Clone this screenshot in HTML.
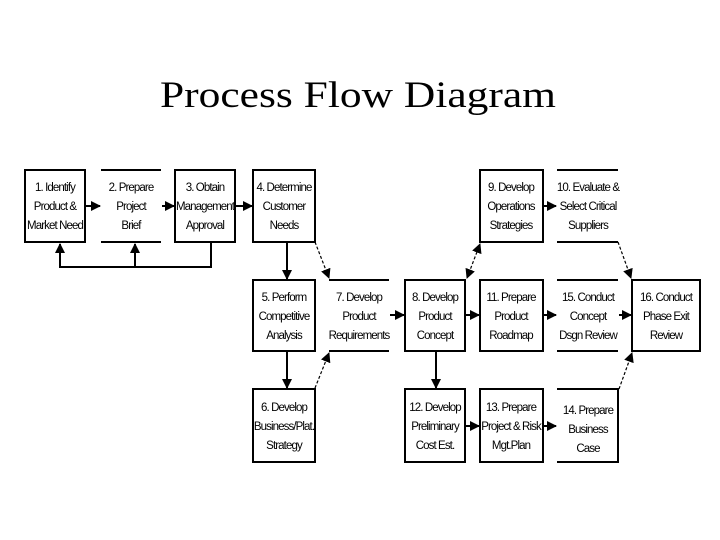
<!DOCTYPE html>
<html><head><meta charset="utf-8"><style>
html,body{margin:0;padding:0;background:#fff;}
svg{display:block}
.t{font-family:"Liberation Sans",sans-serif;font-size:11.5px;text-anchor:middle;fill:#000;letter-spacing:-0.9px}
</style></head><body>
<svg width="720" height="540" viewBox="0 0 720 540" xmlns="http://www.w3.org/2000/svg">
<defs>
<marker id="a" markerWidth="10" markerHeight="10" refX="9" refY="5" orient="auto" markerUnits="userSpaceOnUse"><path d="M0,0 L10,5 L0,10 z" fill="#000"/></marker>
<marker id="b" markerWidth="10" markerHeight="10" refX="1" refY="5" orient="auto" markerUnits="userSpaceOnUse"><path d="M10,0 L0,5 L10,10 z" fill="#000"/></marker>
</defs>
<text x="358" y="107" font-family="Liberation Serif,serif" font-size="37" text-anchor="middle" textLength="396" lengthAdjust="spacingAndGlyphs">Process Flow Diagram</text>
<g fill="none" stroke="#000" stroke-width="2">
<rect x="25" y="170" width="60" height="72"/>
<rect x="175" y="170" width="60" height="72"/>
<rect x="253" y="170" width="62" height="72"/>
<rect x="480" y="170" width="63" height="72"/>
<rect x="253" y="280" width="62" height="71"/>
<rect x="405" y="280" width="60" height="71"/>
<rect x="480" y="280" width="63" height="71"/>
<rect x="632" y="280" width="68" height="71"/>
<rect x="253" y="389" width="62" height="73"/>
<rect x="405" y="389" width="60" height="73"/>
<rect x="480" y="389" width="63" height="73"/>
<path d="M101,170H161M101,242H161"/>
<path d="M329,280H389M329,351H389"/>
<path d="M557,170H618M557,242H618"/>
<path d="M557,280H618M557,351H618"/>
<path d="M557,389H618V462H557"/>
<path d="M211,242V267H60V254M135,267V254"/>
</g>
<g stroke="#000" stroke-width="2" fill="none">
<path d="M86,206H100" marker-end="url(#a)"/>
<path d="M162,206H174" marker-end="url(#a)"/>
<path d="M236,206H252" marker-end="url(#a)"/>
<path d="M60,262V244" marker-end="url(#a)"/>
<path d="M135,262V244" marker-end="url(#a)"/>
<path d="M287,243V279" marker-end="url(#a)"/>
<path d="M287,352V388" marker-end="url(#a)"/>
<path d="M390,315H404" marker-end="url(#a)"/>
<path d="M466,315H479" marker-end="url(#a)"/>
<path d="M544,315H556" marker-end="url(#a)"/>
<path d="M619,315H631" marker-end="url(#a)"/>
<path d="M436,352V388" marker-end="url(#a)"/>
<path d="M466,426H479" marker-end="url(#a)"/>
<path d="M544,426H556" marker-end="url(#a)"/>
<path d="M544,206H556" marker-end="url(#a)"/>
</g>
<g stroke="#000" stroke-width="1.2" fill="none" stroke-dasharray="3,2">
<path d="M315,242L329,278" marker-end="url(#a)"/>
<path d="M315,388L329,353" marker-end="url(#a)"/>
<path d="M467,278L480,244" marker-end="url(#a)" marker-start="url(#b)"/>
<path d="M618,242L631,278" marker-end="url(#a)"/>
<path d="M619,389L632,353" marker-end="url(#a)"/>
</g>
<g class="t">
<text x="55" y="191">1. Identify</text><text x="55" y="210">Product &amp;</text><text x="55" y="229">Market Need</text>
<text x="131" y="191">2. Prepare</text><text x="131" y="210">Project</text><text x="131" y="229">Brief</text>
<text x="205" y="191">3. Obtain</text><text x="205" y="210">Management</text><text x="205" y="229">Approval</text>
<text x="284" y="191">4. Determine</text><text x="284" y="210">Customer</text><text x="284" y="229">Needs</text>
<text x="511" y="191">9. Develop</text><text x="511" y="210">Operations</text><text x="511" y="229">Strategies</text>
<text x="588" y="191">10. Evaluate &amp;</text><text x="588" y="210">Select Critical</text><text x="588" y="229">Suppliers</text>
<text x="284" y="301">5. Perform</text><text x="284" y="320">Competitive</text><text x="284" y="339">Analysis</text>
<text x="359" y="301">7. Develop</text><text x="359" y="320">Product</text><text x="359" y="339">Requirements</text>
<text x="435" y="301">8. Develop</text><text x="435" y="320">Product</text><text x="435" y="339">Concept</text>
<text x="511" y="301">11. Prepare</text><text x="511" y="320">Product</text><text x="511" y="339">Roadmap</text>
<text x="588" y="301">15. Conduct</text><text x="588" y="320">Concept</text><text x="588" y="339">Dsgn Review</text>
<text x="666" y="301">16. Conduct</text><text x="666" y="320">Phase Exit</text><text x="666" y="339">Review</text>
<text x="284" y="411">6. Develop</text><text x="284" y="430">Business/Plat.</text><text x="284" y="449">Strategy</text>
<text x="435" y="411">12. Develop</text><text x="435" y="430">Preliminary</text><text x="435" y="449">Cost Est.</text>
<text x="511" y="411">13. Prepare</text><text x="511" y="430">Project &amp; Risk</text><text x="511" y="449">Mgt.Plan</text>
<text x="588" y="414">14. Prepare</text><text x="588" y="433">Business</text><text x="588" y="452">Case</text>
</g>
</svg>
</body></html>
